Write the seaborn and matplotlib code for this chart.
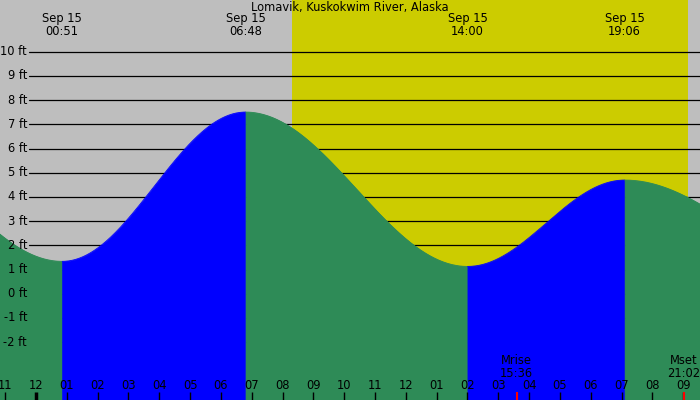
import numpy as np
import pandas as pd
import seaborn as sns
import matplotlib.pyplot as plt
import matplotlib.transforms as mtransforms

# Lomavik tide extremes, hours since Sep 15 00:00 (first and last lie outside the window)
tide_times = [-5.9, 0.85, 6.8, 14.0, 19.1, 26.0]
tide_heights = [6.8, 1.34, 7.51, 1.13, 4.70, 1.13]
# extremes shown with a label on top
event_times = [0.85, 6.8, 14.0, 19.1]
event_labels = ['Sep 15\n00:51', 'Sep 15\n06:48', 'Sep 15\n14:00', 'Sep 15\n19:06']
# sun and moon
sunrise, sunset = 8.31, 21.15
moon_times = [15.6, 21.03]
moon_labels = ['Mrise\n15:36', 'Mset\n21:02']
# axis texts
ft_levels = list(range(10, -3, -1))
hour_ticks = list(range(-1, 22))

sns.set_theme(style='white')
plt.rcParams['font.family'] = ['DejaVu Sans']

GRAY = '#BEBEBE'
YELLOW = '#CCCC00'
GREEN = '#2E8B57'
BLUE = '#0000FF'
FS = 8.3

fig = plt.figure(figsize=(7, 4), dpi=100, facecolor=GRAY)
ax = fig.add_axes([0, 0, 1, 1])
ax.set_facecolor(GRAY)

# daylight
ax.axvspan(sunrise, sunset, color=YELLOW, lw=0, zorder=0)

# depth lines and labels
ylab = mtransforms.blended_transform_factory(ax.transAxes, ax.transData)
for lv in ft_levels:
    ax.axhline(lv, xmin=29 / 700, xmax=1, color='black', lw=0.9, zorder=1)
    ax.text(27 / 700, lv, f'{lv} ft', transform=ylab, ha='right', va='center',
            fontsize=FS, color='black', zorder=5)

# tide curve: cosine between consecutive extremes
rows = []
for i in range(len(tide_times) - 1):
    t1, t2 = tide_times[i], tide_times[i + 1]
    h1, h2 = tide_heights[i], tide_heights[i + 1]
    tt = np.linspace(t1, t2, 200)
    hh = h1 + (h2 - h1) * (1 - np.cos(np.pi * (tt - t1) / (t2 - t1))) / 2
    phase = 'rising' if h2 > h1 else 'falling'
    rows.append(pd.DataFrame({'t': tt, 'h': hh, 'seg': i, 'phase': phase}))
tide = pd.concat(rows, ignore_index=True)

bottom = -4.39
for seg, d in tide.groupby('seg'):
    col = BLUE if d['phase'].iloc[0] == 'rising' else GREEN
    ax.fill_between(d['t'], d['h'], bottom, facecolor=col, edgecolor=col,
                    lw=0.6, zorder=2)
    sns.lineplot(data=d, x='t', y='h', color=col, lw=0.6, ax=ax, zorder=2,
                 legend=False, sort=False)

ax.set_xlim(-1.168, 21.544)
ax.set_ylim(-4.39, 12.14)
ax.axis('off')

# title and extreme labels
xtop = mtransforms.blended_transform_factory(ax.transData, ax.transAxes)
ax.text(0.5, 1 - 7 / 400, 'Lomavik, Kuskokwim River, Alaska', transform=ax.transAxes,
        ha='center', va='center', fontsize=FS, color='black')
for t, lab in zip(event_times, event_labels):
    ax.text(t, 1 - 25 / 400, lab, transform=xtop, ha='center', va='center',
            fontsize=FS, color='black', linespacing=1.05)

# hour ticks
for h in hour_ticks:
    lab = f'{(h % 12) or 12:02d}'
    ax.plot([h, h], [0, 8 / 400], transform=xtop, color='black',
            lw=2.5 if h % 24 == 0 else 1, zorder=6, solid_capstyle='butt')
    ax.text(h, 1 - 385.5 / 400, lab, transform=xtop, ha='center', va='center',
            fontsize=FS, color='black', zorder=6)

# moon rise / set
for t, lab in zip(moon_times, moon_labels):
    ax.plot([t, t], [0, 8 / 400], transform=xtop, color='red', lw=1.5, zorder=7,
            solid_capstyle='butt')
    ax.text(t, 1 - 367 / 400, lab, transform=xtop, ha='center', va='center',
            fontsize=FS, color='black', linespacing=1.05, zorder=6)

fig.savefig('out.png', dpi=100, facecolor=GRAY)
